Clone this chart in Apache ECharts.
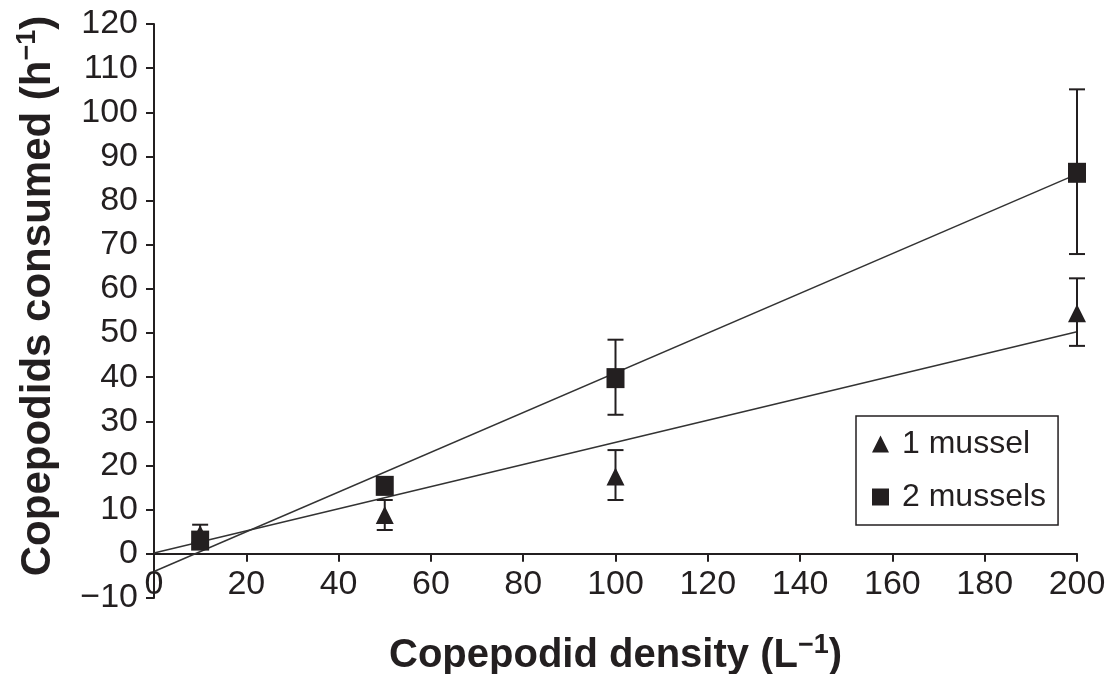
<!DOCTYPE html>
<html>
<head>
<meta charset="utf-8">
<script src="https://cdn.jsdelivr.net/npm/echarts@6/dist/echarts.min.js"></script>
<style>html,body{margin:0;padding:0;background:#fff;}#c{width:1111px;height:674px;}</style>
</head>
<body>
<div id="c"></div>
<script>
// ---- data ----
const xVals = [10, 50, 100, 200];
const mussel1 = [4.5, 8.8, 17.5, 54.5];
const mussel1Low = [2.5, 5.4, 12.2, 47.1];
const mussel1High = [6.6, 12.2, 23.5, 62.4];
const mussel2 = [3, 15.4, 39.8, 86.3];
const mussel2Low = [1.5, 13.5, 31.5, 67.9];
const mussel2High = [4.5, 17.3, 48.5, 105.2];
const fit1 = [[0, 0.2], [200, 50.3]];
const fit2 = [[0, -4], [200, 86]];
const xTicks = {min: 0, max: 200, interval: 20};
const yTicks = {min: -10, max: 120, interval: 10};

const INK = '#231f20';
const GRID_TOP = 24, GRID_BOTTOM = 76, H = 674;
const chart = echarts.init(document.getElementById('c'));

function errorSeries(name, lows, highs) {
  return {
    name: name + ' err',
    type: 'custom',
    z: 3,
    data: xVals.map((x, i) => [x, lows[i], highs[i]]),
    renderItem: function (params, api) {
      const x = api.value(0);
      const lo = api.coord([x, api.value(1)]);
      const hi = api.coord([x, api.value(2)]);
      const hw = 8;
      const st = {stroke: INK, lineWidth: 2};
      return {
        type: 'group',
        children: [
          {type: 'line', shape: {x1: lo[0], y1: lo[1], x2: hi[0], y2: hi[1]}, style: st},
          {type: 'line', shape: {x1: lo[0] - hw, y1: lo[1], x2: lo[0] + hw, y2: lo[1]}, style: st},
          {type: 'line', shape: {x1: hi[0] - hw, y1: hi[1], x2: hi[0] + hw, y2: hi[1]}, style: st}
        ]
      };
    }
  };
}

// offset of the x axis so that it sits at y = 0 (computed from the y scale)
const plotH = H - GRID_TOP - GRID_BOTTOM;
const zeroOffset = -plotH * (0 - yTicks.min) / (yTicks.max - yTicks.min);

const supStyle = {fontSize: 27, fontWeight: 'bold', color: INK, fontFamily: 'Liberation Sans', verticalAlign: 'top', lineHeight: 48};
const minusFmt = v => String(v).replace('-', '−');

chart.setOption({
  animation: false,
  backgroundColor: '#fff',
  textStyle: {fontFamily: 'Liberation Sans', color: INK},
  grid: {left: 154, right: 34, top: GRID_TOP, bottom: GRID_BOTTOM, containLabel: false, outerBoundsMode: 'none'},
  legend: {
    data: [{name: '1 mussel', icon: 'triangle'}, {name: '2 mussels', icon: 'rect'}],
    orient: 'vertical',
    left: 856, top: 416,
    padding: [12, 12, 12, 16],
    itemGap: 21,
    itemWidth: 17, itemHeight: 17,
    borderColor: INK, borderWidth: 1.5,
    backgroundColor: '#fff',
    textStyle: {fontSize: 32, color: INK, fontFamily: 'Liberation Sans', padding: [0, 0, 0, 8]}
  },
  xAxis: {
    type: 'value',
    min: xTicks.min, max: xTicks.max, interval: xTicks.interval,
    offset: zeroOffset,
    splitLine: {show: false},
    axisLine: {onZero: false, lineStyle: {color: INK, width: 2}},
    axisTick: {show: true, length: 8, lineStyle: {color: INK, width: 2}},
    axisLabel: {fontSize: 34, color: INK, margin: 14, fontFamily: 'Liberation Sans', formatter: minusFmt},
    name: 'Copepodid density (L{sup|−1})',
    nameLocation: 'middle',
    nameGap: 78,
    nameTextStyle: {
      fontSize: 40, fontWeight: 'bold', color: INK, fontFamily: 'Liberation Sans', lineHeight: 48,
      rich: {sup: supStyle}
    }
  },
  yAxis: {
    type: 'value',
    min: yTicks.min, max: yTicks.max, interval: yTicks.interval,
    splitLine: {show: false},
    axisLine: {onZero: false, lineStyle: {color: INK, width: 2}},
    axisTick: {show: true, length: 8, lineStyle: {color: INK, width: 2}},
    axisLabel: {fontSize: 34, color: INK, margin: 16, fontFamily: 'Liberation Sans', formatter: minusFmt},
    name: 'Copepodids consumed (h{sup|−1})',
    nameLocation: 'middle',
    nameGap: 92,
    nameTextStyle: {
      fontSize: 42, fontWeight: 'bold', color: INK, fontFamily: 'Liberation Sans', lineHeight: 48,
      padding: [0, 0, 0, 30],
      rich: {sup: supStyle}
    }
  },
  series: [
    {name: 'fit1', type: 'line', data: fit1, symbol: 'none', z: 1, lineStyle: {color: '#333', width: 1.5}, silent: true},
    {name: 'fit2', type: 'line', data: fit2, symbol: 'none', z: 1, lineStyle: {color: '#333', width: 1.5}, silent: true},
    errorSeries('1 mussel', mussel1Low, mussel1High),
    errorSeries('2 mussels', mussel2Low, mussel2High),
    {name: '1 mussel', type: 'scatter', symbol: 'triangle', symbolSize: [18, 18], z: 5,
     itemStyle: {color: INK, opacity: 1}, data: xVals.map((x, i) => [x, mussel1[i]])},
    {name: '2 mussels', type: 'scatter', symbol: 'rect', symbolSize: [18, 20], z: 6,
     itemStyle: {color: INK, opacity: 1}, data: xVals.map((x, i) => [x, mussel2[i]])}
  ]
});
</script>
</body>
</html>
